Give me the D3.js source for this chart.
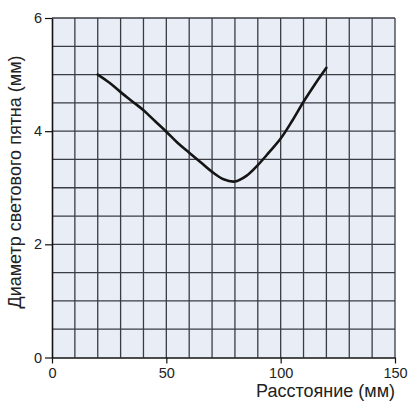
<!DOCTYPE html>
<html><head><meta charset="utf-8">
<script src="https://cdn.jsdelivr.net/npm/d3@7"></script>
<style>body{margin:0;background:#fff}svg{display:block}text{font-family:"Liberation Sans",Arial,sans-serif;fill:#222}</style>
</head><body>
<svg id="c" width="409" height="403"></svg>
<script>
const xValues = [20, 25, 30, 35, 40, 45, 50, 55, 60, 65, 70, 75, 80, 85, 90, 95, 100, 105, 110, 115, 120];
const yValues = [5.0, 4.86, 4.69, 4.53, 4.37, 4.18, 3.99, 3.79, 3.62, 3.45, 3.28, 3.15, 3.11, 3.21, 3.40, 3.63, 3.87, 4.18, 4.52, 4.83, 5.12];
const xTicks = [0, 50, 100, 150];
const yTicks = [0, 2, 4, 6];
const xTitle = "Расстояние (мм)";
const yTitle = "Диаметр светового пятна (мм)";

const L = 52, R = 395, T = 18, B = 357.5;
const svg = d3.select("#c");
const x = d3.scaleLinear().domain([0, 150]).range([L, R]);
const y = d3.scaleLinear().domain([0, 6]).range([B, T]);

svg.append("rect").attr("x", L).attr("y", T).attr("width", R - L).attr("height", B - T).attr("fill", "#e9edf6");

const g = svg.append("g");
g.selectAll("line.v").data(d3.range(10, 151, 10)).join("line")
  .attr("x1", d => x(d)).attr("x2", d => x(d)).attr("y1", T).attr("y2", B)
  .attr("stroke", "#3a3d44").attr("stroke-width", 1.3);
g.selectAll("line.h").data(d3.range(0.5, 6.01, 0.5)).join("line")
  .attr("y1", d => y(d)).attr("y2", d => y(d)).attr("x1", L).attr("x2", R)
  .attr("stroke", "#3a3d44").attr("stroke-width", 1.3);

const xa = svg.append("g").attr("transform", `translate(0,${B})`)
  .call(d3.axisBottom(x).tickValues(xTicks).tickFormat(d3.format("d")).tickSize(6).tickPadding(4).tickSizeOuter(0));
const ya = svg.append("g").attr("transform", `translate(${L},0)`)
  .call(d3.axisLeft(y).tickValues(yTicks).tickFormat(d3.format("d")).tickSize(7).tickPadding(3).tickSizeOuter(0));
[xa, ya].forEach(a => {
  a.select(".domain").attr("stroke", "#111").attr("stroke-width", 1.6);
  a.selectAll(".tick line").attr("stroke", "#111").attr("stroke-width", 1.2);
  a.selectAll(".tick text").attr("font-size", 14.5).attr("fill", "#222").attr("font-family", '"Liberation Sans",Arial,sans-serif');
});

const line = d3.line().x((d, i) => x(xValues[i])).y((d, i) => y(yValues[i])).curve(d3.curveCatmullRom);
svg.append("path").datum(yValues).attr("d", line).attr("fill", "none")
  .attr("stroke", "#151515").attr("stroke-width", 2.6).attr("stroke-linecap", "round");

svg.append("text").attr("x", R).attr("y", 397).attr("text-anchor", "end").attr("font-size", 18).text(xTitle);
svg.append("text").attr("transform", `translate(21,${182}) rotate(-90)`).attr("text-anchor", "middle").attr("font-size", 18).text(yTitle);
</script>
</body></html>
